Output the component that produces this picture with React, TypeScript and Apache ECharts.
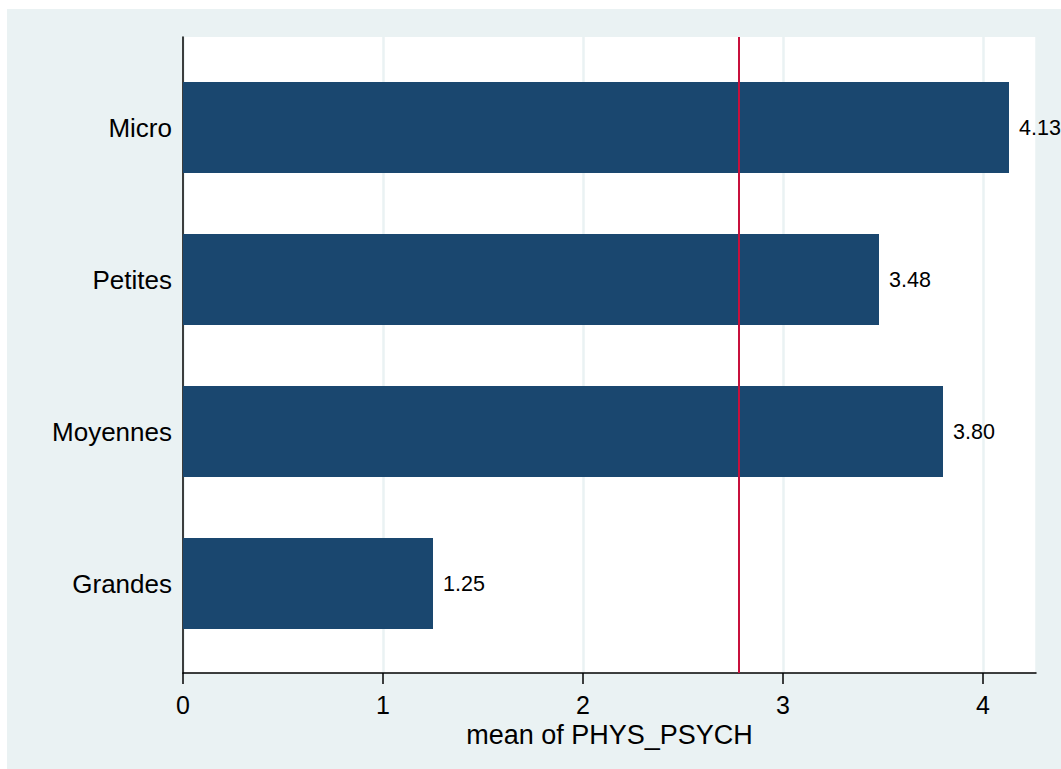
import React, { useEffect, useRef } from "react";
import * as echarts from "echarts";

const categories = ["Micro", "Petites", "Moyennes", "Grandes"];
const meanValues = [4.13, 3.48, 3.8, 1.25];
const overallMean = 2.78;
const xTicks = [0, 1, 2, 3, 4];
const axisTitle = "mean of PHYS_PSYCH";

const FONT = "'Liberation Sans', Arial, Helvetica, sans-serif";

export default function App() {
  const ref = useRef<HTMLDivElement>(null);
  useEffect(() => {
    if (!ref.current) return;
    const chart = echarts.init(ref.current, null, { renderer: "svg" });
    const xMin = xTicks[0];
    const xMax = 4.265;
    chart.setOption({
      animation: false,
      backgroundColor: "#eaf2f3",
      textStyle: { fontFamily: FONT },
      graphic: [
        { type: "rect", shape: { x: 0, y: 0, width: 1061, height: 9 }, style: { fill: "#ffffff" }, silent: true },
        { type: "rect", shape: { x: 0, y: 0, width: 7, height: 769 }, style: { fill: "#ffffff" }, silent: true },
      ],
      grid: [
        { left: 183, top: 37, width: 853, height: 636, show: true, backgroundColor: "#ffffff", borderWidth: 0 },
        { left: 183, top: 51.5, width: 853, height: 608, show: false },
      ],
      xAxis: [
        {
          type: "value",
          gridIndex: 0,
          min: xMin,
          max: xMax,
          interval: 1,
          axisLine: { show: true, onZero: false, lineStyle: { color: "#000000", width: 1.5 } },
          axisTick: { show: true, length: 11, lineStyle: { color: "#000000", width: 1.5 } },
          axisLabel: {
            fontSize: 25,
            color: "#000000",
            margin: 19,
            fontFamily: FONT,
            showMaxLabel: false,
            formatter: (v: number) => (xTicks.includes(v) ? String(v) : ""),
          },
          splitLine: { show: true, lineStyle: { color: "#eaf2f3", width: 2.5 } },
          name: axisTitle,
          nameLocation: "middle",
          nameGap: 42,
          nameTextStyle: { fontSize: 27, color: "#000000", fontFamily: FONT, verticalAlign: "top" },
        },
        {
          type: "value",
          gridIndex: 1,
          min: xMin,
          max: xMax,
          show: false,
        },
      ],
      yAxis: [
        {
          type: "value",
          gridIndex: 0,
          min: 0,
          max: 1,
          axisLine: { show: true, onZero: false, lineStyle: { color: "#000000", width: 1.5 } },
          axisTick: { show: false },
          axisLabel: { show: false },
          splitLine: { show: false },
        },
        {
          type: "category",
          gridIndex: 1,
          data: categories,
          inverse: true,
          axisLine: { show: false },
          axisTick: { show: false },
          axisLabel: { fontSize: 26, color: "#000000", margin: 11, fontFamily: FONT },
          splitLine: { show: false },
        },
      ],
      series: [
        {
          type: "bar",
          xAxisIndex: 1,
          yAxisIndex: 1,
          data: meanValues,
          barWidth: 91,
          itemStyle: { color: "#1a476f" },
          label: {
            show: true,
            position: "right",
            distance: 10,
            fontSize: 21.5,
            color: "#000000",
            fontFamily: FONT,
            formatter: (p: any) => Number(p.value).toFixed(2),
          },
          z: 3,
        },
        {
          type: "line",
          xAxisIndex: 0,
          yAxisIndex: 0,
          data: [
            [overallMean, 0],
            [overallMean, 1],
          ],
          symbol: "none",
          lineStyle: { color: "#c8103c", width: 2 },
          z: 4,
        },
      ],
    });
    return () => chart.dispose();
  }, []);
  return (
    <div
      ref={ref}
      style={{ position: "fixed", left: 0, top: 0, width: 1061, height: 769 }}
    />
  );
}
